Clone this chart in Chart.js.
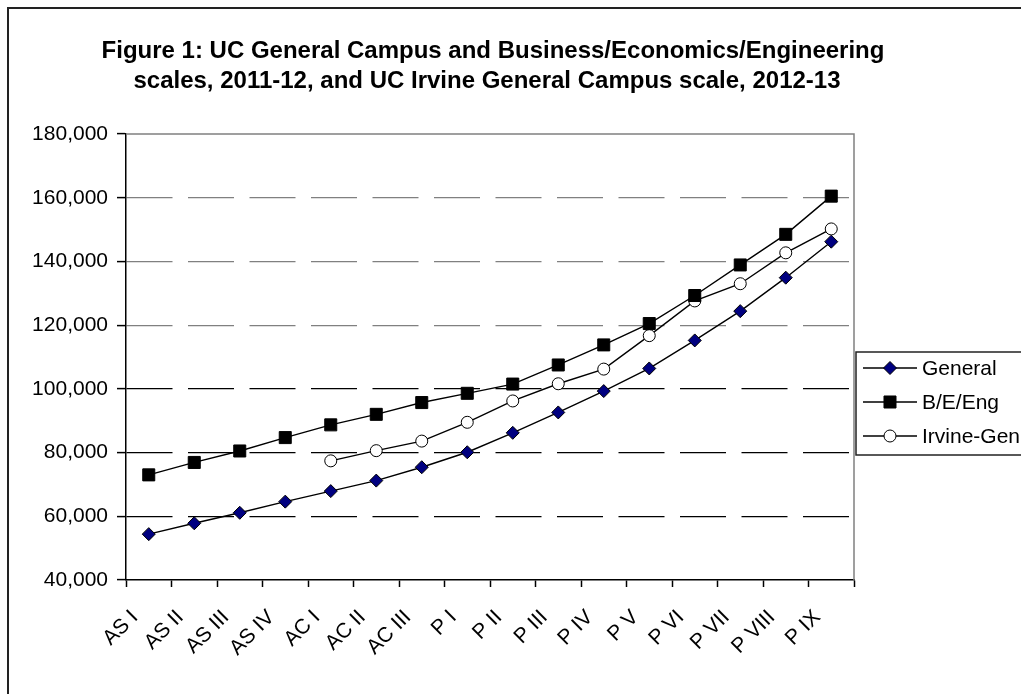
<!DOCTYPE html>
<html>
<head>
<meta charset="utf-8">
<script src="https://cdn.jsdelivr.net/npm/chart.js@4/dist/chart.umd.min.js"></script>
<style>
  html, body { margin: 0; padding: 0; background: #fff; }
  #wrap { width: 1021px; height: 694px; overflow: hidden; }
</style>
</head>
<body>
<div id="wrap"><canvas id="chart" width="1021" height="694"></canvas></div>
<script>
// salary steps
const categories = ['AS I', 'AS II', 'AS III', 'AS IV', 'AC I', 'AC II', 'AC III', 'P I', 'P II', 'P III', 'P IV', 'P V', 'P VI', 'P VII', 'P VIII', 'P IX'];
const general = [54400, 57800, 61100, 64600, 67900, 71200, 75400, 80100, 86200, 92600, 99300, 106400, 115200, 124400, 134900, 146200];
const beEng = [73000, 76900, 80500, 84700, 88700, 92000, 95700, 98600, 101500, 107500, 113800, 120500, 129300, 138900, 148500, 160500];
const irvineGen = [null, null, null, null, 77400, 80600, 83600, 89500, 96200, 101600, 106200, 116700, 127600, 133000, 142700, 150200];
const yTicks = [40000, 60000, 80000, 100000, 120000, 140000, 160000, 180000];
const titleLines = [
  'Figure 1: UC General Campus and Business/Economics/Engineering',
  'scales, 2011-12, and UC Irvine General Campus scale, 2012-13'
];

const FONT = "Arial, 'Liberation Sans', sans-serif";

// frame, title, plot border, legend
const decor = {
  id: 'decor',
  beforeDraw(chart) {
    const ctx = chart.ctx;
    ctx.save();
    ctx.fillStyle = '#fff';
    ctx.fillRect(0, 0, chart.width, chart.height);
    ctx.strokeStyle = '#222';
    ctx.lineWidth = 2;
    ctx.strokeRect(8, 8, 1200, 900);
    ctx.fillStyle = '#000';
    ctx.font = 'bold 24px ' + FONT;
    ctx.textAlign = 'center';
    ctx.textBaseline = 'middle';
    ctx.fillText(titleLines[0], 493, 51);
    ctx.fillText(titleLines[1], 487, 81);
    ctx.restore();
  },
  beforeDatasetsDraw(chart) {
    const { ctx, chartArea: a } = chart;
    ctx.save();
    ctx.strokeStyle = '#808080';
    ctx.lineWidth = 1.5;
    ctx.beginPath();
    ctx.moveTo(a.left, a.top);
    ctx.lineTo(a.right, a.top);
    ctx.lineTo(a.right, a.bottom);
    ctx.stroke();
    ctx.restore();
  },
  afterDraw(chart) {
    const ctx = chart.ctx;
    ctx.save();
    ctx.fillStyle = '#fff';
    ctx.strokeStyle = '#222';
    ctx.lineWidth = 1.5;
    ctx.fillRect(856, 352, 300, 103);
    ctx.strokeRect(856, 352, 300, 103);
    chart.data.datasets.forEach((ds, i) => {
      const y = 368 + i * 34;
      ctx.strokeStyle = '#000';
      ctx.lineWidth = 1.5;
      ctx.beginPath();
      ctx.moveTo(863, y);
      ctx.lineTo(917, y);
      ctx.stroke();
      ctx.fillStyle = ds.pointBackgroundColor;
      ctx.strokeStyle = ds.pointBorderColor;
      ctx.lineWidth = ds.pointBorderWidth;
      Chart.helpers.drawPoint(ctx, { pointStyle: ds.pointStyle, radius: ds.pointRadius, borderWidth: ds.pointBorderWidth, rotation: 0 }, 890, y);
      ctx.fillStyle = '#000';
      ctx.font = '21px ' + FONT;
      ctx.textAlign = 'left';
      ctx.textBaseline = 'middle';
      ctx.fillText(ds.label, 922, y + 1);
    });
    ctx.restore();
  }
};

function series(label, data, style, radius, fill) {
  return {
    label, data,
    borderColor: '#000', borderWidth: 1.4,
    pointStyle: style, pointRadius: radius, pointHoverRadius: radius,
    pointBackgroundColor: fill, pointBorderColor: '#000', pointBorderWidth: 1,
    tension: 0, spanGaps: false
  };
}

new Chart(document.getElementById('chart'), {
  type: 'line',
  plugins: [decor],
  data: {
    labels: categories,
    datasets: [
      series('General', general, 'rectRot', 6.5, '#000080'),
      series('B/E/Eng', beEng, 'rect', 8.5, '#000'),
      series('Irvine-Gen', irvineGen, 'circle', 6, '#fff'),
    ],
  },
  options: {
    responsive: false, animation: false,
    layout: { padding: { top: 134, left: 8, right: 167, bottom: 0 } },
    plugins: { legend: { display: false }, title: { display: false }, tooltip: { enabled: false } },
    scales: {
      x: {
        offset: true,
        grid: { offset: true, drawOnChartArea: false, tickLength: 7, tickColor: '#000', tickWidth: 1.5 },
        border: { color: '#000', width: 1.5 },
        ticks: { color: '#000', font: { family: FONT, size: 21 }, minRotation: 45, maxRotation: 45, autoSkip: false, padding: 18, labelOffset: -14 },
        afterFit: s => { s.height = 114; },
      },
      y: {
        min: 40000, max: 180000,
        afterBuildTicks: s => { s.ticks = yTicks.map(v => ({ value: v })); },
        grid: {
          color: c => (c.tick && (c.tick.value === 180000 || c.tick.value === 40000)) ? 'rgba(0,0,0,0)'
            : (c.tick && c.tick.value >= 120000 ? '#808080' : '#000'),
          lineWidth: 1.2, tickLength: 9, tickColor: '#000', tickWidth: 1.5, tickBorderDash: [],
        },
        border: { color: '#000', width: 1.5, dash: [46, 15.5] },
        ticks: { color: '#000', font: { family: FONT, size: 21 }, padding: 9, callback: v => v.toLocaleString('en-US') },
        afterFit: s => { s.width = 118; },
      },
    },
  },
});
</script>
</body>
</html>
